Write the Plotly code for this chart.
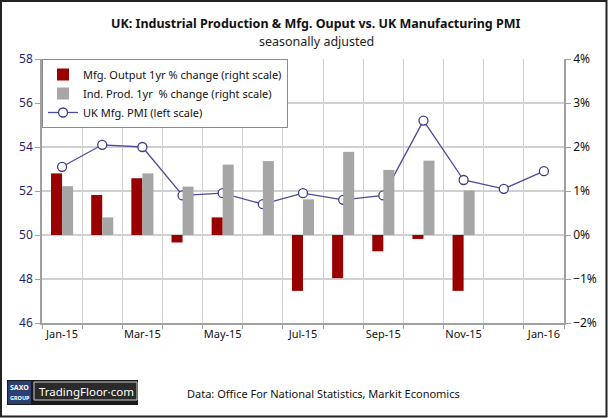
import plotly.graph_objects as go

months = ["Jan-15", "Feb-15", "Mar-15", "Apr-15", "May-15", "Jun-15", "Jul-15",
          "Aug-15", "Sep-15", "Oct-15", "Nov-15", "Dec-15", "Jan-16"]
tick_labels = ["Jan-15", "", "Mar-15", "", "May-15", "", "Jul-15",
               "", "Sep-15", "", "Nov-15", "", "Jan-16"]
mfg_output = [1.40, 0.91, 1.29, -0.17, 0.40, 0.0, -1.27, -0.98, -0.37, -0.09, -1.27, None, None]
ind_prod = [1.11, 0.40, 1.40, 1.10, 1.60, 1.68, 0.81, 1.89, 1.48, 1.69, 1.01, None, None]
pmi = [53.1, 54.1, 54.0, 51.8, 51.9, 51.4, 51.9, 51.6, 51.8, 55.2, 52.5, 52.1, 52.9]

FONT = "Noto Sans"
W, H = 608, 418
L, R, T, B = 42, 44, 59, 95
pw, ph = W - L - R, H - T - B

def px(x):
    return (x - L) / pw

def py(y):
    return 1 - (y - T) / ph

fig = go.Figure()
fig.add_trace(go.Bar(x=months, y=mfg_output, name="Mfg. Output 1yr % change (right scale)",
                     marker=dict(color="#990000", line=dict(width=0)), yaxis="y2"))
fig.add_trace(go.Bar(x=months, y=ind_prod, name="Ind. Prod. 1yr  % change (right scale)",
                     marker=dict(color="#A6A6A6", line=dict(width=0)), yaxis="y2"))
fig.add_trace(go.Scatter(x=months, y=pmi, name="UK Mfg. PMI (left scale)", mode="lines+markers",
                         line=dict(color="#4B4B9B", width=1.3),
                         marker=dict(symbol="circle", size=9, color="white",
                                     line=dict(color="#3C3C8C", width=1.3)), yaxis="y"))

shapes = [
    # outer frame
    dict(type="rect", xref="paper", yref="paper", x0=px(1), x1=px(W - 1.5), y0=py(H - 1.5), y1=py(1),
         line=dict(color="#222222", width=2), fillcolor="rgba(0,0,0,0)", layer="above"),
    # logo
    dict(type="rect", xref="paper", yref="paper", x0=px(7), x1=px(138), y0=py(405), y1=py(380),
         line=dict(width=0), fillcolor="#1a1a1a", layer="above"),
    dict(type="rect", xref="paper", yref="paper", x0=px(8), x1=px(31), y0=py(404), y1=py(381),
         line=dict(width=0), fillcolor="#2b3f73", layer="above"),
    dict(type="rect", xref="paper", yref="paper", x0=px(34), x1=px(137), y0=py(400), y1=py(382),
         line=dict(color="#cccccc", width=1), fillcolor="#2a2a2a", layer="above"),
]

annotations = [
    dict(text="<b>UK: Industrial Production &amp; Mfg. Ouput vs. UK Manufacturing PMI</b>",
         xref="paper", yref="paper", x=px(316), y=py(23), showarrow=False,
         font=dict(family=FONT, size=12.5, color="#111111"), xanchor="center", yanchor="middle"),
    dict(text="seasonally adjusted", xref="paper", yref="paper", x=px(316), y=py(41), showarrow=False,
         font=dict(family=FONT, size=12.5, color="#222222"), xanchor="center", yanchor="middle"),
    dict(text="Data: Office For National Statistics, Markit Economics", xref="paper", yref="paper",
         x=px(185), y=py(393), showarrow=False, xanchor="left", yanchor="middle",
         font=dict(family=FONT, size=11, color="#111111")),
    dict(text="<b>SAXO</b>", xref="paper", yref="paper", x=px(19.5), y=py(387), showarrow=False,
         xanchor="center", yanchor="middle", font=dict(family=FONT, size=7, color="white")),
    dict(text="<b>GROUP</b>", xref="paper", yref="paper", x=px(19.5), y=py(398), showarrow=False,
         xanchor="center", yanchor="middle", font=dict(family=FONT, size=5.5, color="white")),
    dict(text="TradingFloor·com", xref="paper", yref="paper", x=px(86), y=py(391), showarrow=False,
         xanchor="center", yanchor="middle", font=dict(family=FONT, size=11.5, color="white")),
]

fig.update_layout(
    width=W, height=H,
    margin=dict(l=L, r=R, t=T, b=B),
    paper_bgcolor="white", plot_bgcolor="white",
    barmode="group", bargap=0.45, bargroupgap=0,
    font=dict(family=FONT, size=11, color="#111111"),
    showlegend=True,
    legend=dict(x=0, y=1, xanchor="left", yanchor="top", bgcolor="white",
                bordercolor="#8c8c8c", borderwidth=1, traceorder="normal",
                font=dict(family=FONT, size=11, color="#111111"),
                itemwidth=30, tracegroupgap=0),
    xaxis=dict(type="category", tickmode="array", tickvals=months, ticktext=tick_labels,
               tickson="boundaries", showgrid=True, gridcolor="#D0D0D0", gridwidth=1,
               showline=True, linecolor="#A0A0A0", linewidth=1.5, ticks="outside", ticklen=4,
               tickcolor="#A0A0A0", tickangle=0, tickfont=dict(family=FONT, size=11, color="#111111"),
               range=[-0.5, 12.5]),
    yaxis=dict(range=[46, 58], dtick=2, tick0=46, showgrid=True, gridcolor="#D0D0D0", gridwidth=1.5,
               showline=True, linecolor="#A0A0A0", linewidth=1.5, ticks="outside", ticklen=5,
               tickcolor="#A0A0A0", zeroline=False,
               tickfont=dict(family=FONT, size=12, color="#1F1F6E")),
    yaxis2=dict(range=[-2, 4], dtick=1, tick0=-2, overlaying="y", side="right", showgrid=False,
                showline=True, linecolor="#A0A0A0", linewidth=1.5, ticks="outside", ticklen=5,
                tickcolor="#A0A0A0", zeroline=False, ticksuffix="%",
                tickfont=dict(family=FONT, size=12, color="#111111")),
    shapes=shapes, annotations=annotations,
)

fig.write_html("out.html", config={"displayModeBar": False},
               post_script="document.body.style.margin='0';")
